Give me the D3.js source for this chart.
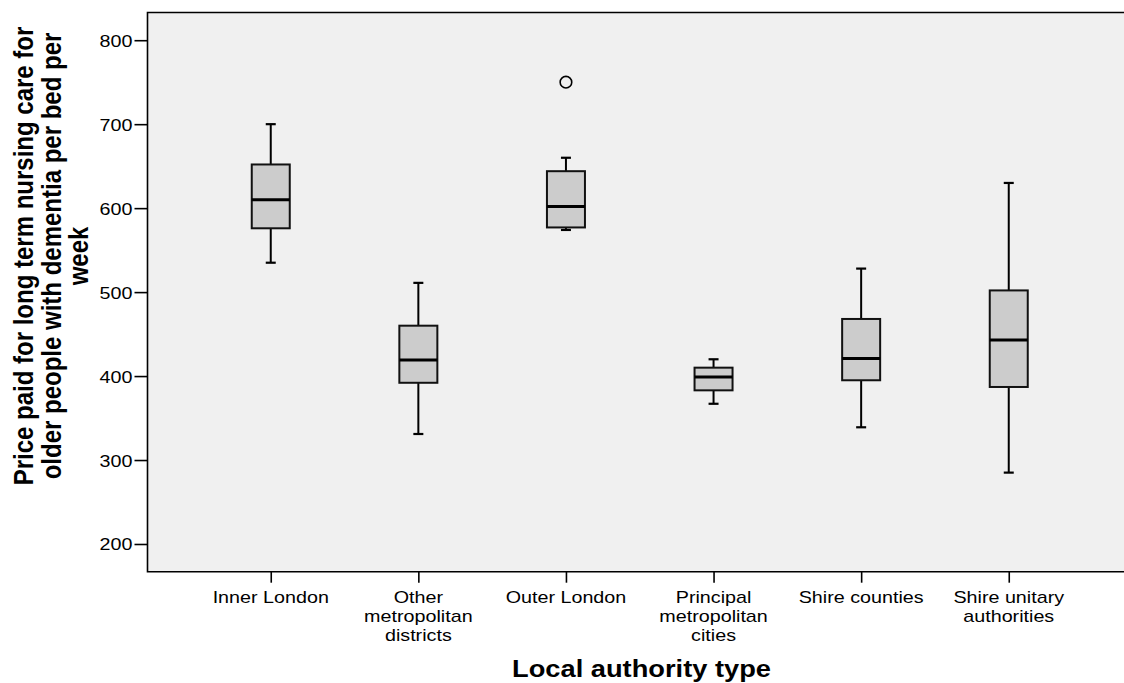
<!DOCTYPE html>
<html>
<head>
<meta charset="utf-8">
<script src="https://cdnjs.cloudflare.com/ajax/libs/d3/7.8.5/d3.min.js"></script>
<style>
  html, body { margin: 0; background: #fff; overflow: hidden; }
  svg { display: block; font-family: "Liberation Sans", Arial, sans-serif; }
</style>
</head>
<body>
<svg id="chart" width="1124" height="683"></svg>
<script>
//Data
var categories = ["Inner London", "Other metropolitan districts", "Outer London",
                  "Principal metropolitan cities", "Shire counties", "Shire unitary authorities"];
var tickLines = [["Inner London"], ["Other", "metropolitan", "districts"], ["Outer London"],
                 ["Principal", "metropolitan", "cities"], ["Shire counties"], ["Shire unitary", "authorities"]];
var whiskerLow  = [535, 331, 574, 367, 339, 285];
var q1          = [576, 392, 577, 383, 395, 387];
var medians     = [610, 419, 602, 399, 421, 443];
var q3          = [652, 460, 644, 410, 468, 502];
var whiskerHigh = [700, 511, 660, 420, 528, 630];
var outliers    = [[], [], [750], [], [], []];
var yTicks = [200, 300, 400, 500, 600, 700, 800];

//Layout
var plotLeft = 147.5, plotRight = 1132, plotTop = 12.5, plotBottom = 571.7;
var boxWidth = 38;
var capWidth = 10;
var stretch = 1.16; //text in the picture is a little wider than tall
var W = 1124;

var svg = d3.select("#chart");

var x = d3.scalePoint().domain(categories).range([plotLeft, plotRight]).padding(0.835);
var y = d3.scaleLinear().domain([167, 833]).range([plotBottom, plotTop]);

//plot background - runs off the right edge of the picture
svg.append("rect")
  .attr("x", plotLeft).attr("y", plotTop)
  .attr("width", W - plotLeft).attr("height", plotBottom - plotTop)
  .attr("fill", "#f0f0f0");

//y axis
var yAxis = svg.append("g").attr("transform", "translate(" + plotLeft + ",0)")
  .call(d3.axisLeft(y).tickValues(yTicks).tickSize(13).tickPadding(2).tickSizeOuter(0));
yAxis.select(".domain").remove();
yAxis.selectAll(".tick line").attr("stroke", "#000").attr("stroke-width", 1.6);
yAxis.selectAll(".tick text").each(function(){
  var t = d3.select(this);
  var tx = +t.attr("x");
  t.attr("x", null).attr("dy", null)
   .attr("transform", "translate(" + tx + ",6) scale(" + stretch + ",1)")
   .attr("font-size", 17).attr("fill", "#000")
   .attr("font-family", "Liberation Sans, Arial, sans-serif");
});

//x axis
var xAxis = svg.append("g").attr("transform", "translate(0," + plotBottom + ")")
  .call(d3.axisBottom(x).tickSize(11).tickSizeOuter(0).tickFormat(""));
xAxis.select(".domain").remove();
xAxis.selectAll(".tick line").attr("stroke", "#000").attr("stroke-width", 1.6);

var labels = svg.append("g").selectAll("text").data(categories).enter().append("text")
  .attr("transform", function(d){ return "translate(" + x(d) + ",603.3) scale(" + stretch + ",1)"; })
  .attr("text-anchor", "middle").attr("font-size", 17).attr("fill", "#000");
labels.each(function(d, i){
  var t = d3.select(this);
  tickLines[i].forEach(function(line, j){
    t.append("tspan").attr("x", 0).attr("y", j * 19).text(line);
  });
});

//boxes
var boxes = svg.append("g").selectAll("g").data(categories).enter().append("g");

boxes.append("line") //whisker stem
  .attr("x1", function(d){ return x(d); }).attr("x2", function(d){ return x(d); })
  .attr("y1", function(d, i){ return y(whiskerLow[i]); })
  .attr("y2", function(d, i){ return y(whiskerHigh[i]); })
  .attr("stroke", "#000").attr("stroke-width", 2);
boxes.append("line") //top cap
  .attr("x1", function(d){ return x(d) - capWidth/2; }).attr("x2", function(d){ return x(d) + capWidth/2; })
  .attr("y1", function(d, i){ return y(whiskerHigh[i]); })
  .attr("y2", function(d, i){ return y(whiskerHigh[i]); })
  .attr("stroke", "#000").attr("stroke-width", 2.2);
boxes.append("line") //bottom cap
  .attr("x1", function(d){ return x(d) - capWidth/2; }).attr("x2", function(d){ return x(d) + capWidth/2; })
  .attr("y1", function(d, i){ return y(whiskerLow[i]); })
  .attr("y2", function(d, i){ return y(whiskerLow[i]); })
  .attr("stroke", "#000").attr("stroke-width", 2.2);
boxes.append("rect")
  .attr("x", function(d){ return x(d) - boxWidth/2; })
  .attr("y", function(d, i){ return y(q3[i]); })
  .attr("width", boxWidth)
  .attr("height", function(d, i){ return y(q1[i]) - y(q3[i]); })
  .attr("fill", "#cccccc").attr("stroke", "#111").attr("stroke-width", 2);
boxes.append("line") //median
  .attr("x1", function(d){ return x(d) - boxWidth/2; }).attr("x2", function(d){ return x(d) + boxWidth/2; })
  .attr("y1", function(d, i){ return y(medians[i]); })
  .attr("y2", function(d, i){ return y(medians[i]); })
  .attr("stroke", "#000").attr("stroke-width", 3);

//outliers
boxes.each(function(d, i){
  d3.select(this).selectAll("circle").data(outliers[i]).enter().append("circle")
    .attr("cx", x(d)).attr("cy", function(v){ return y(v); }).attr("r", 5.8)
    .attr("fill", "none").attr("stroke", "#000").attr("stroke-width", 1.6);
});

//frame: left, top and bottom only, the right side is cut off
svg.append("path")
  .attr("d", "M" + W + "," + plotTop + "H" + plotLeft + "V" + plotBottom + "H" + W)
  .attr("fill", "none").attr("stroke", "#000").attr("stroke-width", 1.6);

//axis titles
svg.append("text")
  .attr("transform", "translate(641.5,676.7) scale(" + stretch + ",1)")
  .attr("text-anchor", "middle").attr("font-size", 23.5).attr("font-weight", "bold")
  .text("Local authority type");

var yTitle = svg.append("text")
  .attr("transform", "translate(0,256) scale(" + stretch + ",1) rotate(-90)")
  .attr("text-anchor", "middle").attr("font-size", 24).attr("font-weight", "bold");
var yTitleLines = ["Price paid for long term nursing care for", "older people with dementia per bed per", "week"];
yTitleLines.forEach(function(line, j){
  yTitle.append("tspan").attr("x", 0).attr("y", 33.3/stretch + j * 27.5/stretch).text(line);
});
</script>
</body>
</html>
